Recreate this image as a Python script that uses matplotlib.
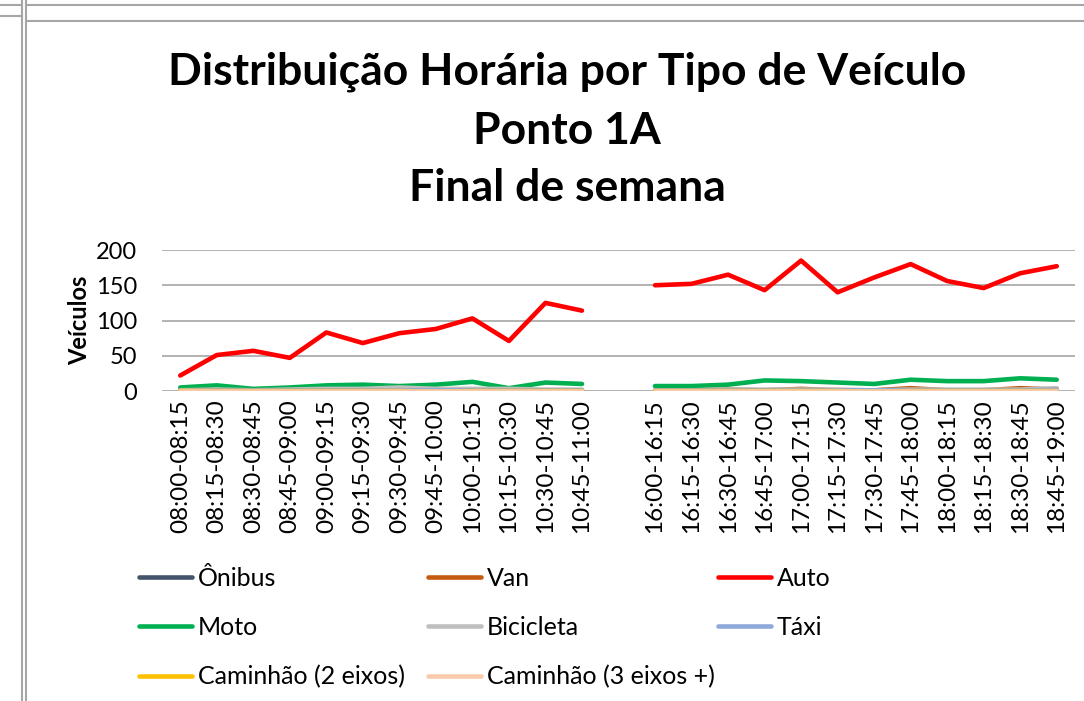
import matplotlib
matplotlib.use('Agg')
import matplotlib.pyplot as plt
from matplotlib.lines import Line2D
import numpy as np

plt.rcParams['font.family'] = ['Lato', 'DejaVu Sans']

manha = ['08:00-08:15', '08:15-08:30', '08:30-08:45', '08:45-09:00',
         '09:00-09:15', '09:15-09:30', '09:30-09:45', '09:45-10:00',
         '10:00-10:15', '10:15-10:30', '10:30-10:45', '10:45-11:00']
tarde = ['16:00-16:15', '16:15-16:30', '16:30-16:45', '16:45-17:00',
         '17:00-17:15', '17:15-17:30', '17:30-17:45', '17:45-18:00',
         '18:00-18:15', '18:15-18:30', '18:30-18:45', '18:45-19:00']

# contagens por tipo (manha, depois tarde)
onibus_m = [0, 0, 0, 0, 0, 0, 0, 0, 0, 0, 0, 0]
onibus_t = [0, 0, 0, 0, 0, 0, 0, 0, 0, 0, 0, 0]
van_m = [1, 1, 0, 1, 1, 1, 1, 0, 1, 0, 1, 1]
van_t = [0, 1, 2, 1, 3, 1, 1, 4, 1, 1, 4, 2]
auto_m = [22, 51, 57, 47, 83, 68, 82, 88, 103, 71, 125, 114]
auto_t = [150, 152, 165, 143, 185, 140, 161, 180, 156, 146, 167, 177]
moto_m = [5, 8, 3, 5, 8, 9, 7, 9, 13, 4, 12, 10]
moto_t = [7, 7, 9, 15, 14, 12, 10, 16, 14, 14, 18, 16]
bici_m = [1, 2, 1, 2, 3, 3, 5, 3, 3, 3, 2, 2]
bici_t = [1, 1, 2, 2, 2, 2, 1, 2, 2, 2, 2, 4]
taxi_m = [0, 1, 1, 1, 1, 1, 1, 1, 1, 1, 1, 1]
taxi_t = [1, 1, 1, 1, 1, 1, 1, 1, 1, 1, 1, 2]
cam2_m = [0, 0, 0, 0, 0, 0, 0, -1, 0, 0, 0, 0]
cam2_t = [0, 0, 0, 0, 0, 0, -1, 0, 0, 0, 0, 0]
cam3_m = [0, 0, 0, 0, 0, 0, 0, 0, 0, 0, 0, 0]
cam3_t = [0, 0, 0, 0, 0, 0, 0, 0, 0, 0, 0, 0]

nomes = ['Ônibus', 'Van', 'Auto', 'Moto', 'Bicicleta', 'Táxi',
         'Caminhão (2 eixos)', 'Caminhão (3 eixos +)']
cores = ['#44546A', '#C55A11', '#FF0000', '#00B050', '#BFBFBF', '#8EA9DB',
         '#FFC000', '#F8CBAD']
series = [(onibus_m, onibus_t), (van_m, van_t), (auto_m, auto_t),
          (moto_m, moto_t), (bici_m, bici_t), (taxi_m, taxi_t),
          (cam2_m, cam2_t), (cam3_m, cam3_t)]

rotulos = manha + [''] + tarde
x = np.arange(len(rotulos))

W, H = 1084, 701
fig = plt.figure(figsize=(W / 100, H / 100), dpi=100)

def px(x0, y0):
    return x0 / W, 1 - y0 / H

# bordas das celulas da planilha
borda = '#A6A6A6'
for xs, ys in [((0, 21.5), (4.7, 4.7)), ((26, W), (4.7, 4.7)),
               ((0, 21.5), (16, 16)), ((26, W), (20.7, 20.7)),
               ((21.5, 21.5), (0, H)), ((26, 26), (0, H))]:
    fig.add_artist(Line2D([v / W for v in xs], [1 - v / H for v in ys],
                          color=borda, lw=1.5))

ax = fig.add_axes([162 / W, 1 - 391 / H, 913 / W, 141 / H])
linhas = []
for nome, cor, (m, t) in zip(nomes, cores, series):
    y = np.array(list(m) + [np.nan] + list(t), dtype=float)
    l, = ax.plot(x, y, color=cor, lw=3.3, solid_capstyle='round', label=nome)
    linhas.append(l)

ax.set_xlim(-0.5, len(rotulos) - 0.5)
ax.set_ylim(0, 200)
ax.set_yticks([0, 50, 100, 150, 200])
ax.set_xticks(x)
ax.set_xticklabels(rotulos, rotation=90, fontsize=17.5)
ax.tick_params(axis='y', labelsize=17, length=0, pad=18)
ax.tick_params(axis='x', length=0, pad=6)
ax.grid(axis='y', color='#A6A6A6', lw=1.2)
ax.set_axisbelow(True)
for s in ax.spines.values():
    s.set_visible(False)
ax.set_ylabel('Veículos', fontsize=17, fontweight='bold', labelpad=3)

for texto, yy in [('Distribuição Horária por Tipo de Veículo', 72),
                  ('Ponto 1A', 131), ('Final de semana', 188)]:
    fig.text(567 / W, 1 - yy / H, texto, ha='center', va='center',
             fontsize=32, fontweight='bold')

# legenda: tres colunas fixas, preenchidas por linha
colunas = [(139, [0, 3, 6]), (428, [1, 4, 7]), (718, [2, 5])]
for x0, idx in colunas:
    leg = fig.legend([linhas[i] for i in idx], [nomes[i] for i in idx],
                     loc='upper left', bbox_to_anchor=px(x0, 567),
                     borderaxespad=0, borderpad=0, frameon=False,
                     fontsize=18, handlelength=2.1, handletextpad=0.25,
                     labelspacing=1.04)
    for h in leg.legend_handles:
        h.set_linewidth(3.3)

fig.savefig('out.png', dpi=100, facecolor='white')
